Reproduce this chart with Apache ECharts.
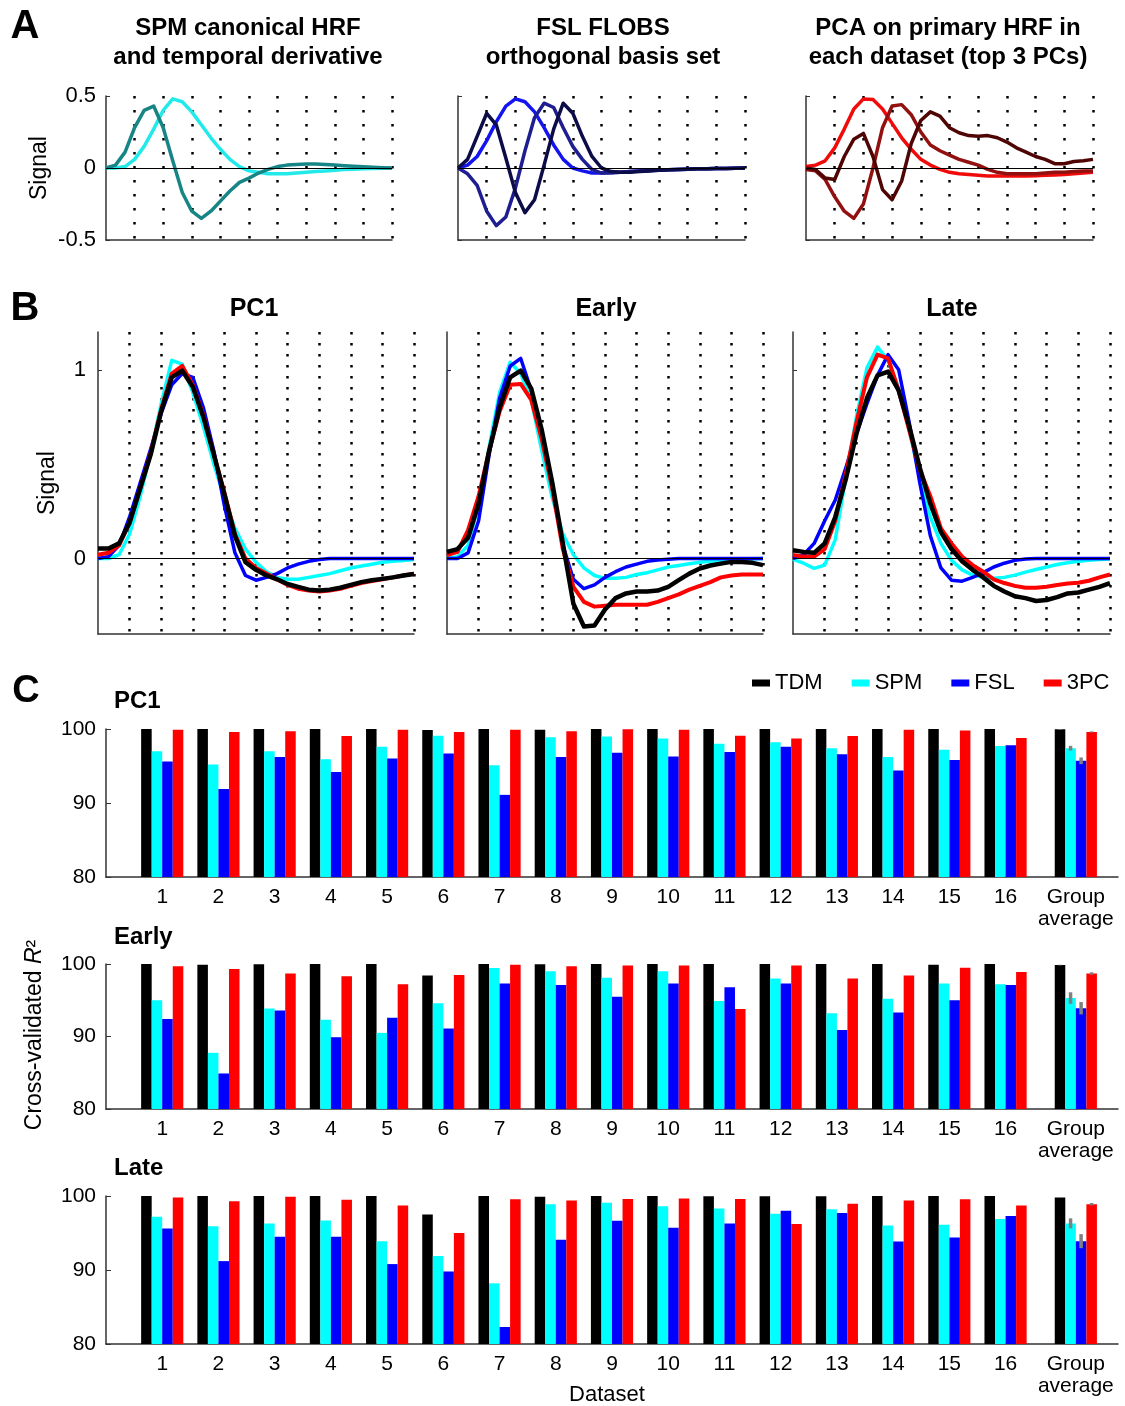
<!DOCTYPE html>
<html>
<head>
    <title>HRF basis sets and cross-validated R2</title>
    <script src="https://cdn.jsdelivr.net/npm/echarts@6.0.0/dist/echarts.min.js"></script>
    <style>body{margin:0;background:#fff;}</style>
</head>
<body>
<div id="chart" style="width: 1125px; height: 1406px;"></div>
<script>
    var FONT = '"Liberation Sans", Arial, Helvetica, sans-serif';

    // time samples of every HRF curve
    var samples = [0,1,2,3,4,5,6,7,8,9,10,11,12,13,14,15,16,17,18,19,20,21,22,23,24,25,26,27,28,29,30];

    // panel A
    var spmCanon = [0,0,0.01,0.06,0.15,0.27,0.40,0.48,0.46,0.39,0.30,0.21,0.13,0.06,0.01,-0.02,-0.03,-0.04,-0.04,-0.04,-0.035,-0.03,-0.025,-0.02,-0.015,-0.01,-0.008,-0.005,-0.003,-0.002,0];
    var spmDeriv = [0,0.02,0.11,0.28,0.40,0.43,0.28,0.05,-0.17,-0.30,-0.35,-0.30,-0.23,-0.16,-0.10,-0.07,-0.035,-0.01,0.01,0.02,0.025,0.028,0.027,0.025,0.02,0.016,0.012,0.008,0.005,0.002,0];
    var flobs1 = [0,0.02,0.08,0.19,0.32,0.43,0.48,0.46,0.39,0.28,0.16,0.06,0,-0.02,-0.035,-0.035,-0.03,-0.03,-0.025,-0.02,-0.018,-0.015,-0.012,-0.01,-0.008,-0.006,-0.005,-0.004,-0.003,-0.002,0];
    var flobs2 = [0,-0.04,-0.12,-0.30,-0.40,-0.34,-0.14,0.12,0.35,0.45,0.42,0.28,0.15,0.06,-0.01,-0.035,-0.035,-0.03,-0.025,-0.02,-0.017,-0.014,-0.012,-0.01,-0.008,-0.006,-0.005,-0.004,-0.003,-0.002,0];
    var flobs3 = [0,0.06,0.22,0.38,0.30,0.07,-0.17,-0.31,-0.22,0.02,0.27,0.45,0.38,0.22,0.08,0,-0.025,-0.03,-0.03,-0.025,-0.02,-0.016,-0.013,-0.01,-0.008,-0.006,-0.005,-0.004,-0.003,-0.002,0];
    var pcaA1 = [0.01,0.02,0.05,0.14,0.27,0.41,0.48,0.475,0.41,0.31,0.21,0.13,0.06,0.02,-0.01,-0.03,-0.04,-0.045,-0.05,-0.055,-0.055,-0.055,-0.055,-0.055,-0.053,-0.05,-0.048,-0.045,-0.04,-0.035,-0.03];
    var pcaA2 = [-0.01,-0.02,-0.08,-0.20,-0.30,-0.35,-0.25,0,0.28,0.43,0.44,0.37,0.25,0.16,0.12,0.09,0.06,0.04,0.02,-0.01,-0.03,-0.04,-0.04,-0.04,-0.04,-0.035,-0.03,-0.03,-0.025,-0.02,-0.02];
    var pcaA3 = [0,-0.01,-0.07,-0.08,0.08,0.20,0.24,0.08,-0.15,-0.22,-0.09,0.17,0.33,0.39,0.36,0.28,0.245,0.225,0.22,0.225,0.21,0.18,0.14,0.11,0.08,0.06,0.03,0.03,0.045,0.05,0.06];

    // panel B
    var pc1TDM = [0.053,0.053,0.08,0.19,0.37,0.55,0.78,0.96,0.995,0.91,0.75,0.55,0.34,0.12,-0.02,-0.06,-0.09,-0.11,-0.135,-0.15,-0.165,-0.17,-0.165,-0.155,-0.14,-0.125,-0.115,-0.108,-0.1,-0.09,-0.082];
    var pc1SPM = [0,0,0.02,0.13,0.33,0.56,0.82,1.05,1.03,0.88,0.70,0.50,0.32,0.16,0.05,-0.02,-0.07,-0.10,-0.11,-0.11,-0.10,-0.09,-0.08,-0.065,-0.05,-0.04,-0.03,-0.02,-0.015,-0.01,-0.005];
    var pc1FSL = [0,0.01,0.07,0.22,0.40,0.58,0.77,0.92,0.98,0.96,0.80,0.57,0.28,0.03,-0.09,-0.115,-0.10,-0.08,-0.05,-0.03,-0.015,-0.005,0,0,0,0,0,0,0,0,0];
    var pc13PC = [0.02,0.03,0.07,0.19,0.37,0.56,0.79,0.98,1.02,0.92,0.76,0.55,0.35,0.13,0,-0.05,-0.08,-0.11,-0.14,-0.16,-0.17,-0.175,-0.17,-0.16,-0.145,-0.13,-0.12,-0.11,-0.1,-0.09,-0.08];
    var earlyTDM = [0.035,0.05,0.11,0.29,0.57,0.80,0.96,0.995,0.90,0.68,0.40,0.08,-0.24,-0.36,-0.355,-0.27,-0.21,-0.185,-0.175,-0.175,-0.17,-0.15,-0.115,-0.08,-0.053,-0.037,-0.027,-0.018,-0.018,-0.023,-0.035];
    var earlySPM = [0,0.01,0.07,0.29,0.59,0.88,1.04,0.98,0.84,0.57,0.32,0.13,0.02,-0.05,-0.09,-0.105,-0.105,-0.1,-0.085,-0.075,-0.06,-0.045,-0.037,-0.028,-0.02,-0.014,-0.01,-0.006,-0.004,-0.002,0];
    var earlyFSL = [0,0,0.03,0.20,0.55,0.85,1.02,1.06,0.89,0.67,0.37,0.07,-0.11,-0.16,-0.14,-0.10,-0.07,-0.045,-0.03,-0.015,-0.008,-0.004,0,0,0,0,0,0,0,0,0];
    var early3PC = [0.018,0.035,0.15,0.33,0.57,0.78,0.92,0.925,0.84,0.63,0.37,0.05,-0.15,-0.23,-0.255,-0.25,-0.245,-0.245,-0.245,-0.245,-0.23,-0.21,-0.19,-0.165,-0.145,-0.125,-0.10,-0.09,-0.085,-0.085,-0.085];
    var lateTDM = [0.044,0.035,0.03,0.08,0.22,0.42,0.66,0.85,0.97,0.99,0.89,0.70,0.48,0.29,0.14,0.05,-0.015,-0.06,-0.1,-0.145,-0.175,-0.2,-0.21,-0.225,-0.22,-0.205,-0.185,-0.18,-0.165,-0.15,-0.13];
    var lateSPM = [-0.005,-0.025,-0.052,-0.035,0.1,0.43,0.75,1.01,1.12,1.05,0.9,0.68,0.43,0.22,0.08,-0.01,-0.06,-0.088,-0.10,-0.105,-0.1,-0.088,-0.072,-0.058,-0.045,-0.032,-0.023,-0.015,-0.009,-0.005,-0.003];
    var lateFSL = [0,0.02,0.08,0.2,0.31,0.48,0.66,0.82,0.97,1.08,1.0,0.72,0.4,0.12,-0.05,-0.115,-0.12,-0.1,-0.075,-0.045,-0.025,-0.01,-0.003,0,0,0,0,0,0,0,0];
    var late3PC = [0.018,0.01,0.01,0.05,0.2,0.45,0.72,0.96,1.08,1.06,0.89,0.68,0.47,0.33,0.16,0.08,0.01,-0.035,-0.07,-0.11,-0.13,-0.145,-0.155,-0.155,-0.15,-0.14,-0.132,-0.128,-0.118,-0.10,-0.085];

    // panel C
    var datasetPos = [1,2,3,4,5,6,7,8,9,10,11,12,13,14,15,16,17.25];
    var datasetLabels = ['1','2','3','4','5','6','7','8','9','10','11','12','13','14','15','16','Group\naverage'];
    var methods = ['TDM', 'SPM', 'FSL', '3PC'];
    var methodColors = ['#000000', '#00ffff', '#0000ff', '#ff0000'];

    var r2PC1TDM = [100,100,100,100,100,99.86,100,99.9,100,100,100,100,100,100,100,100,99.95];
    var r2PC1SPM = [97.0,95.2,97.0,95.9,97.6,99.1,95.1,98.9,99.0,98.7,98.0,98.2,97.4,96.2,97.2,97.7,97.4];
    var r2PC1FSL = [95.6,91.9,96.2,94.2,96.0,96.7,91.1,96.2,96.8,96.3,96.9,97.6,96.6,94.4,95.8,97.8,95.7];
    var r2PC13PC = [99.9,99.6,99.7,99.05,99.9,99.6,99.9,99.7,99.95,99.9,99.1,98.7,99.05,99.9,99.8,98.8,99.6];
    var errPC1 = [0.05,0.32,0.45,0.08];

    var r2EarlyTDM = [100,99.9,99.95,100,100,98.4,100,99.95,100,100,100,100,100,100,99.9,100,99.85];
    var r2EarlySPM = [95.0,87.75,93.85,92.3,90.5,94.6,99.45,99.0,98.1,99.0,94.9,98.0,93.2,95.2,97.3,97.2,95.3];
    var r2EarlyFSL = [92.4,84.9,93.6,89.9,92.6,91.1,97.3,97.1,95.5,97.3,96.8,97.3,90.9,93.3,95.0,97.1,93.9];
    var r2Early3PC = [99.7,99.3,98.7,98.3,97.2,98.5,99.9,99.7,99.8,99.8,93.8,99.8,98.0,98.4,99.5,98.9,98.7];
    var errEarly = [0.05,0.8,0.85,0.16];

    var r2LateTDM = [100,100,100,100,100,97.5,100,99.9,100,100,99.95,99.95,99.95,100,100,100,99.8];
    var r2LateSPM = [97.2,95.9,96.3,96.7,93.9,91.9,88.2,98.9,99.1,98.6,98.3,97.6,98.2,96.0,96.1,96.9,96.3];
    var r2LateFSL = [95.6,91.2,94.5,94.5,90.8,89.8,82.3,94.1,96.65,95.7,96.3,98.0,97.7,93.85,94.4,97.3,93.9];
    var r2Late3PC = [99.8,99.3,99.9,99.5,98.7,95.0,99.55,99.4,99.6,99.65,99.6,96.2,98.95,99.4,99.55,98.7,98.9];
    var errLate = [0.07,0.68,0.95,0.15];

    var barRows = [
        [r2PC1TDM, r2PC1SPM, r2PC1FSL, r2PC13PC],
        [r2EarlyTDM, r2EarlySPM, r2EarlyFSL, r2Early3PC],
        [r2LateTDM, r2LateSPM, r2LateFSL, r2Late3PC]
    ];
    var errRows = [errPC1, errEarly, errLate];

    var BAR_GAP = 0.25; // barCategoryGap as a fraction

    var chart = echarts.init(document.getElementById('chart'));

    var grids = [
        {left: 106, top: 96, width: 286, height: 144},
        {left: 458, top: 96, width: 287, height: 144},
        {left: 806, top: 96, width: 287, height: 144},
        {left: 98, top: 332, width: 316, height: 302},
        {left: 447, top: 332, width: 316, height: 302},
        {left: 793, top: 332, width: 317, height: 302},
        {left: 106, top: 729, width: 1012, height: 148},
        {left: 106, top: 964, width: 1012, height: 145},
        {left: 106, top: 1196, width: 1012, height: 148}
    ];

    var axisLine = {show: true, onZero: false, lineStyle: {color: '#333', width: 1.5}};
    var xAxes = [], yAxes = [];
    for (var g = 0; g < 6; g++) {
        xAxes.push({
            type: 'value', gridIndex: g, min: 0, max: 30, interval: 3,
            axisLine: axisLine, axisTick: {show: false}, axisLabel: {show: false},
            splitLine: {show: true, showMinLine: false,
                lineStyle: {color: '#000', width: 2.5, cap: 'butt', type: g < 3 ? [2.5, 11.5] : [2.5, 8.5]}}
        });
    }
    for (g = 0; g < 3; g++) {
        yAxes.push({
            type: 'value', gridIndex: g, min: -0.5, max: 0.5, interval: 0.5,
            axisLine: axisLine, splitLine: {show: false},
            axisTick: {show: true, inside: true, length: 4, lineStyle: {color: '#333'}},
            axisLabel: {show: g === 0, fontSize: 22, color: '#000', fontFamily: FONT, margin: 10,
                formatter: function (v) { return v === 0 ? '0' : String(v); }}
        });
    }
    for (g = 3; g < 6; g++) {
        yAxes.push({
            type: 'value', gridIndex: g, min: -0.4, max: 1.2, interval: 0.4,
            axisLine: axisLine, splitLine: {show: false},
            axisTick: {show: true, inside: true, length: 4, customValues: [0, 1], lineStyle: {color: '#333'}},
            axisLabel: {show: g === 3, customValues: [0, 1], fontSize: 22, color: '#000', fontFamily: FONT, margin: 12}
        });
    }
    for (g = 6; g < 9; g++) {
        xAxes.push({
            type: 'value', gridIndex: g, min: 0, max: 18,
            axisLine: axisLine, axisTick: {show: false}, splitLine: {show: false},
            axisLabel: {
                customValues: datasetPos, fontSize: 21, lineHeight: 22, color: '#000', fontFamily: FONT, margin: 9,
                formatter: function (v) { return datasetLabels[datasetPos.indexOf(v)]; }
            }
        });
        yAxes.push({
            type: 'value', gridIndex: g, min: 80, max: 100, interval: 10,
            axisLine: axisLine, splitLine: {show: false},
            axisTick: {show: true, inside: true, length: 5, lineStyle: {color: '#333'}},
            axisLabel: {fontSize: 21, color: '#000', fontFamily: FONT, margin: 10}
        });
    }

    function curve(grid, values, color, width, zero) {
        var s = {
            type: 'line', xAxisIndex: grid, yAxisIndex: grid, silent: true,
            data: samples.map(function (t, i) { return [t, values[i]]; }),
            showSymbol: false, symbol: 'none', animation: false,
            lineStyle: {color: color, width: width, join: 'round'}, itemStyle: {color: color}
        };
        if (zero) {
            s.markLine = {symbol: 'none', silent: true, animation: false, label: {show: false},
                lineStyle: {color: '#000', width: 1, type: 'solid'}, data: [{yAxis: 0}]};
        }
        return s;
    }

    var series = [
        curve(0, spmCanon, '#22eaea', 3.5, true),
        curve(0, spmDeriv, '#178585', 3.5),
        curve(1, flobs1, '#1414f0', 3.5, true),
        curve(1, flobs2, '#1e1e90', 3.5),
        curve(1, flobs3, '#0c0c48', 3.5),
        curve(2, pcaA1, '#f00a0a', 3.5, true),
        curve(2, pcaA2, '#921010', 3.5),
        curve(2, pcaA3, '#500505', 3.5),

        curve(3, pc1SPM, '#00ffff', 3.5, true),
        curve(3, pc1FSL, '#0000ff', 3.5),
        curve(3, pc13PC, '#ff0000', 4),
        curve(3, pc1TDM, '#000000', 4.5),
        curve(4, earlySPM, '#00ffff', 3.5, true),
        curve(4, earlyFSL, '#0000ff', 3.5),
        curve(4, early3PC, '#ff0000', 4),
        curve(4, earlyTDM, '#000000', 4.5),
        curve(5, lateSPM, '#00ffff', 3.5, true),
        curve(5, lateFSL, '#0000ff', 3.5),
        curve(5, late3PC, '#ff0000', 4),
        curve(5, lateTDM, '#000000', 4.5)
    ];

    barRows.forEach(function (row, r) {
        row.forEach(function (vals, m) {
            series.push({
                type: 'bar', name: methods[m], xAxisIndex: 6 + r, yAxisIndex: 6 + r,
                data: datasetPos.map(function (x, i) { return [x, vals[i]]; }),
                barGap: '0%', barCategoryGap: (BAR_GAP * 100) + '%', clip: true,
                itemStyle: {color: methodColors[m]}, silent: true, animation: false
            });
        });
        var groupIdx = datasetPos.length - 1;
        series.push({
            type: 'custom', xAxisIndex: 6 + r, yAxisIndex: 6 + r, silent: true, z: 5, animation: false,
            data: errRows[r].map(function (e, m) { return [datasetPos[groupIdx], row[m][groupIdx], e, m]; }),
            renderItem: function (params, api) {
                var slot = (1 - BAR_GAP) / methods.length;
                var x = api.value(0) + (api.value(3) - (methods.length - 1) / 2) * slot;
                var top = api.coord([x, api.value(1) + api.value(2)]);
                var bot = api.coord([x, api.value(1) - api.value(2)]);
                return {type: 'line', shape: {x1: top[0], y1: top[1], x2: bot[0], y2: bot[1]},
                    style: {stroke: '#808080', lineWidth: 3.5}};
            }
        });
    });

    function txt(x, y, text, size, bold, align, rot) {
        return {
            type: 'text', x: x, y: y, rotation: rot || 0, silent: true,
            style: {
                text: text, fontSize: size, fontWeight: bold ? 'bold' : 'normal', fontFamily: FONT, fill: '#000',
                align: align || 'center', verticalAlign: 'middle',
                textAlign: align || 'center', textVerticalAlign: 'middle',
                rich: {i: {fontStyle: 'italic', fontSize: size, fontFamily: FONT}}
            }
        };
    }

    var graphics = [
        txt(25, 27, 'A', 40, true),
        txt(248, 28, 'SPM canonical HRF', 24, true),
        txt(248, 57, 'and temporal derivative', 24, true),
        txt(603, 28, 'FSL FLOBS', 24, true),
        txt(603, 57, 'orthogonal basis set', 24, true),
        txt(948, 28, 'PCA on primary HRF in', 24, true),
        txt(948, 57, 'each dataset (top 3 PCs)', 24, true),
        txt(40, 168, 'Signal', 23, false, 'center', Math.PI / 2),
        txt(25, 309, 'B', 40, true),
        txt(254, 309, 'PC1', 25, true),
        txt(606, 309, 'Early', 25, true),
        txt(952, 309, 'Late', 25, true),
        txt(48, 483, 'Signal', 23, false, 'center', Math.PI / 2),
        txt(26, 692, 'C', 38, true),
        txt(114, 701, 'PC1', 24, true, 'left'),
        txt(114, 937, 'Early', 24, true, 'left'),
        txt(114, 1168, 'Late', 24, true, 'left'),
        txt(607, 1395, 'Dataset', 22),
        txt(35, 1035, 'Cross-validated {i|R}²', 23, false, 'center', Math.PI / 2)
    ];

    var option = {
        animation: false,
        backgroundColor: '#ffffff',
        grid: grids,
        xAxis: xAxes,
        yAxis: yAxes,
        legend: {
            data: methods, left: 747, top: 667, icon: 'rect', itemWidth: 18, itemHeight: 7, itemGap: 29,
            selectedMode: false, textStyle: {fontSize: 22, color: '#000', fontFamily: FONT}
        },
        graphic: graphics,
        series: series
    };

    chart.setOption(option);
</script>
</body>
</html>
